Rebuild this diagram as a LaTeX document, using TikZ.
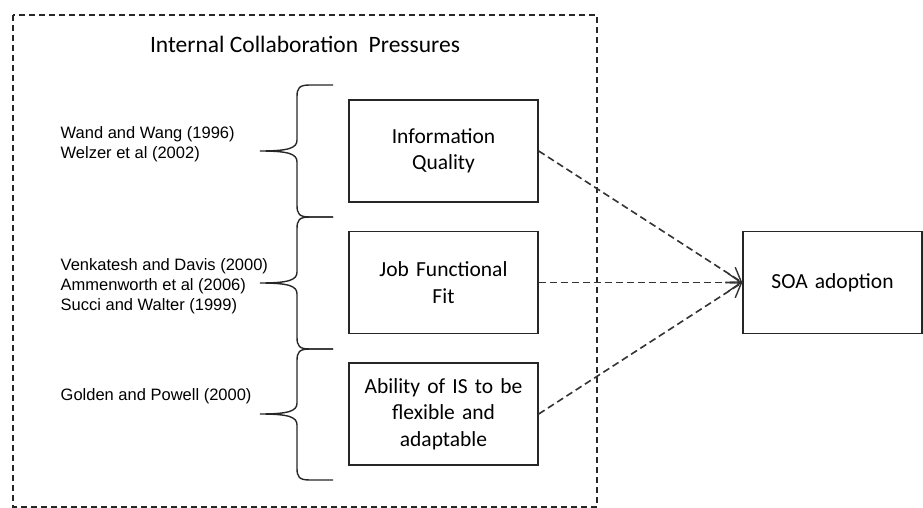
\documentclass[tikz,border=0pt]{standalone}
\usepackage{fontspec}
\usepackage{tikz}
\usetikzlibrary{arrows.meta}
\newfontfamily\boxfont{Carlito}
\newfontfamily\citefont{Liberation Sans}

\begin{document}
\begin{tikzpicture}[x=1pt,y=-1pt,line width=1.4pt,
                    factor box/.style={draw=black!85,minimum width=189pt,minimum height=102pt,
                      text width=180pt,align=center,inner sep=0pt,
                      font=\boxfont\fontsize{21.5}{26.5}\selectfont},
                    cite text/.style={anchor=west,align=left,inner sep=0pt,
                      font=\citefont\fontsize{16.5}{20}\selectfont},
                    flow/.style={draw=black!80,line width=1.6pt,dash pattern=on 7pt off 4pt,
                      -{Straight Barb[length=13pt,width=18pt,line width=1.4pt]}}]
  \useasboundingbox (0,0) rectangle (923,508);

  % outer group
  \draw[black!85,dash pattern=on 6pt off 4pt] (13,15) rectangle (597,507);
  \node[inner sep=0pt,font=\boxfont\fontsize{23.5}{28}\selectfont] (title) at (305,44)
       {Internal Collaboration\ \ Pressures};

  % factors
  \node[factor box] (quality) at (443.5,151) {Information\\Quality};
  \node[factor box] (fit) at (443.5,282.5) {Job Functional\\Fit};
  \node[factor box] (ability) at (443.5,414) {Ability of IS to be\\flexible and\\adaptable};
  \node[factor box,minimum width=179pt,text width=170pt] (soa) at (832.5,282.5) {SOA adoption};

  % sources
  \node[cite text] (wand) at (60,144) {Wand and Wang (1996)\\Welzer et al (2002)};
  \node[cite text] (venkatesh) at (60,286) {Venkatesh and Davis (2000)\\Ammenworth et al (2006)\\Succi and Walter (1999)};
  \node[cite text] (golden) at (60,396) {Golden and Powell (2000)};

  % braces
  \foreach \t/\m/\b in {85/151/217, 217/283/349, 349/414/480}
    \draw[black!85] (333,\t) -- (310,\t) .. controls (299,\t) and (297,\t+3) .. (297,\t+12)
      -- (297,\m-11) .. controls (297,\m-3) and (289,\m) .. (260,\m)
      .. controls (289,\m) and (297,\m+3) .. (297,\m+11)
      -- (297,\b-12) .. controls (297,\b-3) and (299,\b) .. (310,\b) -- (333,\b);

  \draw[flow] (quality.east) -- (soa.west);
  \draw[flow] (fit.east) -- (soa.west);
  \draw[flow] (ability.east) -- (soa.west);
\end{tikzpicture}
\end{document}
